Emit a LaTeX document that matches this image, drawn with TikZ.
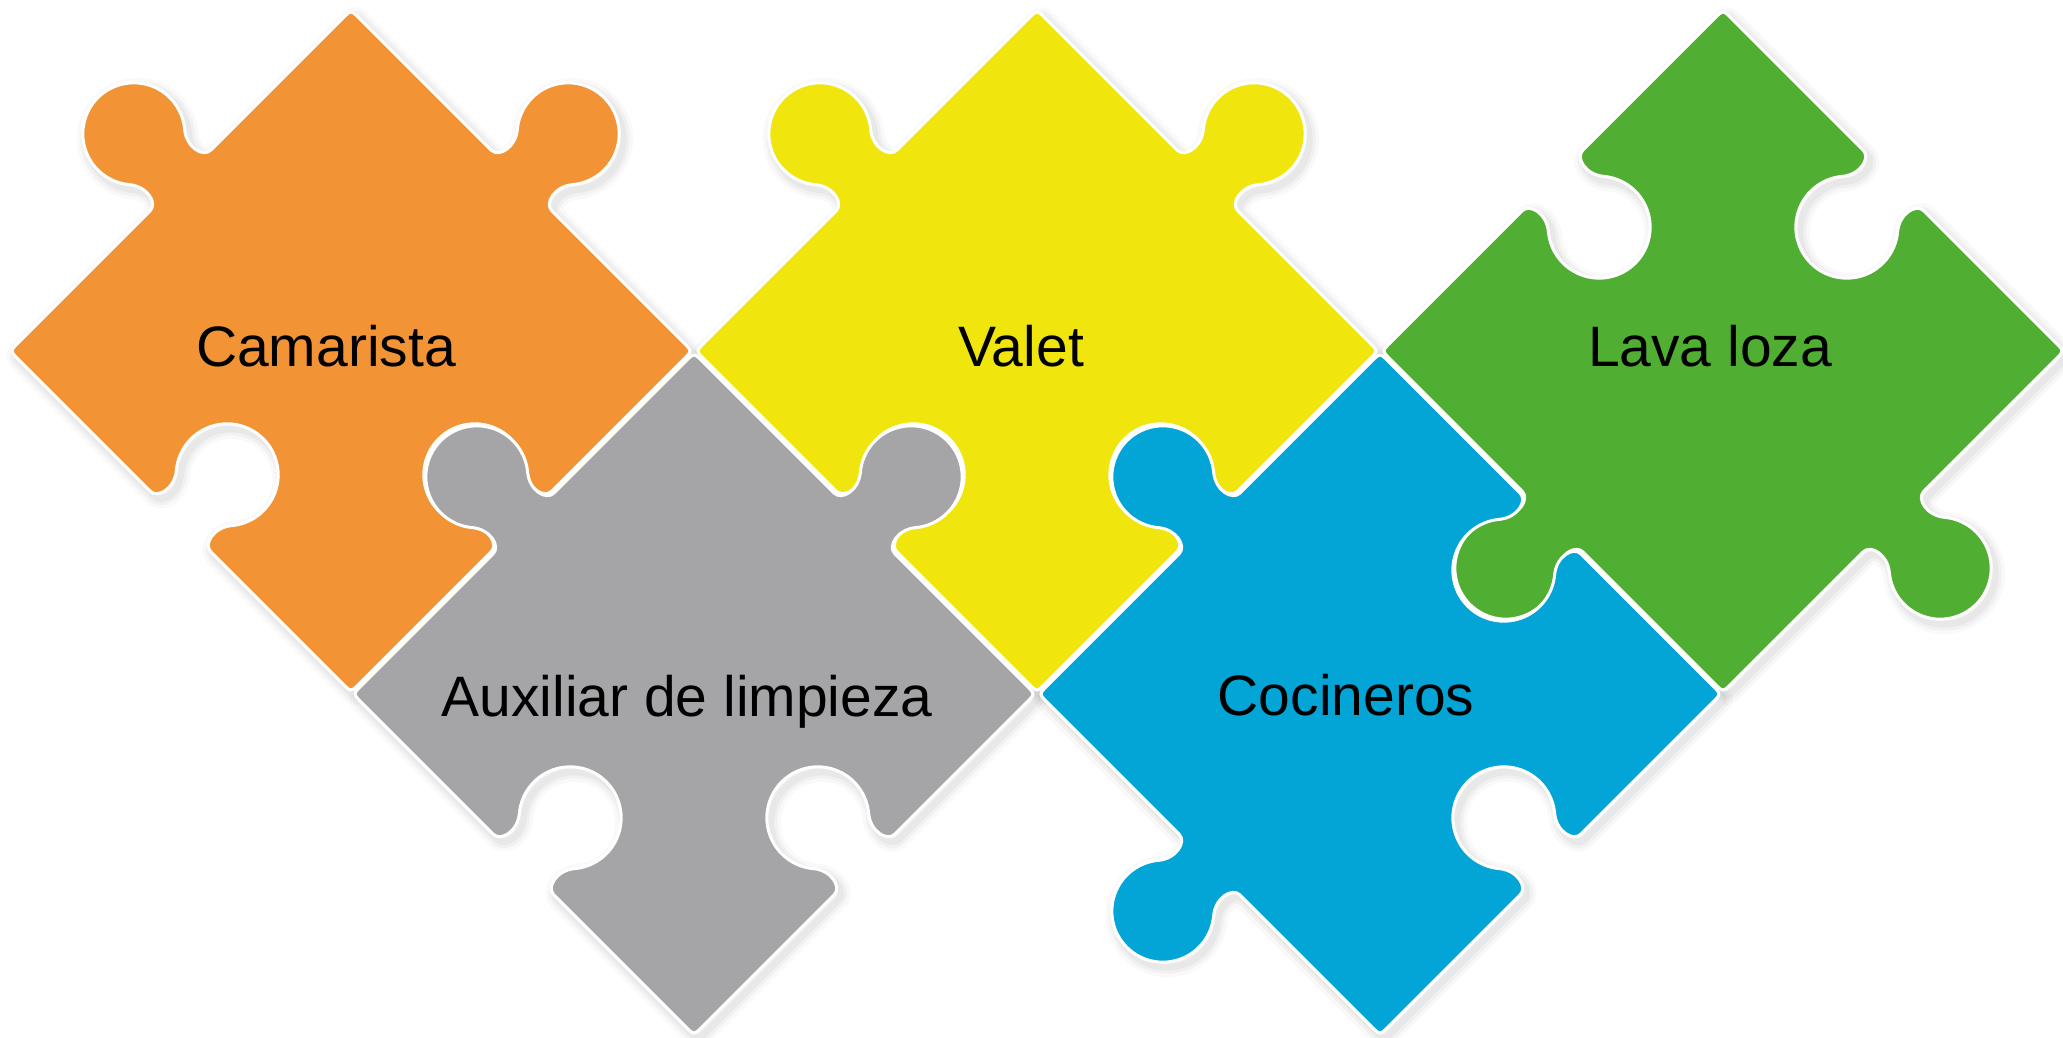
\documentclass[tikz,border=0pt]{standalone}
\usepackage{fontspec}
\setmainfont{Liberation Sans}
\definecolor{pOrange}{HTML}{F29436}
\definecolor{pYellow}{HTML}{F0E60E}
\definecolor{pGreen}{HTML}{50AE32}
\definecolor{pGray}{HTML}{A5A4A6}
\definecolor{pBlue}{HTML}{03A4D6}
\newcommand\pR{341}
\newcommand\pL{241.12}
\newcommand\pRc{12}
\newcommand\DefEdge[5]{%
\begin{scope}[shift={({#2},{#3})},rotate=#4,yscale=#5]
\coordinate (#1-v) at (-\pL,0);
\coordinate (#1-s) at ({-\pL+\pRc},0);
\coordinate (#1-p0) at (-43,0);
\coordinate (#1-c1) at (-32,0);
\coordinate (#1-c2) at (-27.5,19.4);
\coordinate (#1-a0) at (-39.07,33.22);
\coordinate (#1-q1) at (-51.80,48.39);
\coordinate (#1-q2) at (-54.59,69.61);
\coordinate (#1-a1) at (-46.22,87.55);
\coordinate (#1-q3) at (-37.85,105.49);
\coordinate (#1-q4) at (-19.8,117);
\coordinate (#1-a2) at (0,117);
\coordinate (#1-q5) at (19.8,117);
\coordinate (#1-q6) at (37.85,105.49);
\coordinate (#1-a3) at (46.22,87.55);
\coordinate (#1-q7) at (54.59,69.61);
\coordinate (#1-q8) at (51.80,48.39);
\coordinate (#1-a4) at (39.07,33.22);
\coordinate (#1-c3) at (27.5,19.4);
\coordinate (#1-c4) at (32,0);
\coordinate (#1-p1) at (43,0);
\coordinate (#1-e) at ({\pL-\pRc},0);
\end{scope}}
\newcommand\DefPiece[7]{%
\DefEdge{#1-1}{#2+\pR/2}{#3+\pR/2}{135}{#4}%
\DefEdge{#1-2}{#2-\pR/2}{#3+\pR/2}{225}{#5}%
\DefEdge{#1-3}{#2-\pR/2}{#3-\pR/2}{315}{#6}%
\DefEdge{#1-4}{#2+\pR/2}{#3-\pR/2}{45}{#7}}
\newcommand\EP[1]{-- (#1-p0) .. controls (#1-c1) and (#1-c2) .. (#1-a0) .. controls (#1-q1) and (#1-q2) .. (#1-a1) .. controls (#1-q3) and (#1-q4) .. (#1-a2) .. controls (#1-q5) and (#1-q6) .. (#1-a3) .. controls (#1-q7) and (#1-q8) .. (#1-a4) .. controls (#1-c3) and (#1-c4) .. (#1-p1) -- (#1-e)}
\newcommand\PP[1]{(#1-1-s) \EP{#1-1} .. controls (#1-2-v) .. (#1-2-s) \EP{#1-2} .. controls (#1-3-v) .. (#1-3-s) \EP{#1-3} .. controls (#1-4-v) .. (#1-4-s) \EP{#1-4} .. controls (#1-1-v) .. (#1-1-s) -- cycle}
\tikzset{
  piece/.style={draw=white, line width=3pt, line join=round},
  shade1/.style={draw=black, draw opacity=0.025, line width=20pt, line join=round},
  shade2/.style={draw=black, draw opacity=0.03, line width=13pt, line join=round},
  shade3/.style={draw=black, draw opacity=0.035, line width=7pt, line join=round},
  lbl/.style={anchor=base, inner sep=0pt, text=black, font=\fontsize{57}{64}\selectfont}
}
\begin{document}
\begin{tikzpicture}[x=1pt,y=1pt]
\useasboundingbox (0,0) rectangle (2063,1037);
\DefPiece{po}{351}{686}{-1}{-1}{1}{1}
\DefPiece{py}{1037}{686}{-1}{-1}{1}{1}
\DefPiece{pg}{1723}{686}{1}{1}{-1}{-1}
\DefPiece{pa}{694}{343}{-1}{-1}{1}{1}
\DefPiece{pb}{1380}{343}{1}{-1}{-1}{1}
\begin{scope}[transform canvas={xshift=4pt,yshift=-5pt}]
\foreach \nm in {po,py,pg,pa,pb}{
  \path[shade1] \PP{\nm};
  \path[shade2] \PP{\nm};
  \path[shade3] \PP{\nm};
}
\end{scope}
\path[piece, fill=pOrange] \PP{po};
\path[piece, fill=pYellow] \PP{py};
\path[piece, fill=pGreen] \PP{pg};
\path[piece, fill=pGray] \PP{pa};
\path[piece, fill=pBlue] \PP{pb};
\node[lbl] (camarista) at (326,670) {Camarista};
\node[lbl] (valet) at (1021,670) {Valet};
\node[lbl] (lavaloza) at (1710,670) {Lava loza};
\node[lbl] (auxiliar) at (687,321) {Auxiliar de limpieza};
\node[lbl] (cocineros) at (1346,322) {Cocineros};
\end{tikzpicture}
\end{document}
